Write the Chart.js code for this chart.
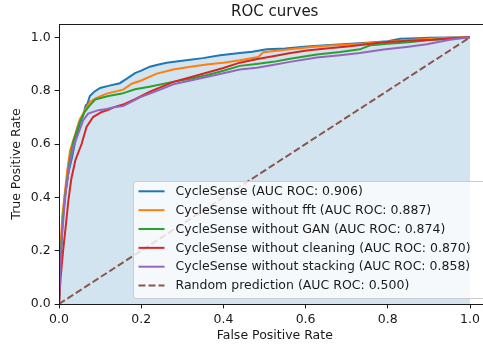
<!DOCTYPE html>
<html lang="en">
<head>
  <meta charset="UTF-8">
  <title>ROC curves</title>
  <script src="https://cdn.jsdelivr.net/npm/chart.js"></script>
  <style>
    html, body { margin: 0; padding: 0; background: #fff; overflow: hidden; }
    canvas { display: block; }
  </style>
</head>
<body>
  <canvas id="roc" width="500" height="347"></canvas>

  <script>
    // values
    const labels = [
      "CycleSense (AUC ROC: 0.906)",
      "CycleSense without fft (AUC ROC: 0.887)",
      "CycleSense without GAN (AUC ROC: 0.874)",
      "CycleSense without cleaning (AUC ROC: 0.870)",
      "CycleSense without stacking (AUC ROC: 0.858)",
      "Random prediction (AUC ROC: 0.500)"
    ];

    const fprFull = [0, 0.003, 0.008, 0.015, 0.024, 0.032, 0.040, 0.051, 0.059, 0.065, 0.069, 0.075, 0.085, 0.100, 0.120, 0.148, 0.165, 0.185, 0.200, 0.221, 0.240, 0.262, 0.290, 0.319, 0.350, 0.392, 0.440, 0.470, 0.505, 0.550, 0.603, 0.650, 0.700, 0.750, 0.800, 0.830, 0.870, 0.900, 0.950, 1.0];
    const tprFull = [0, 0.15, 0.30, 0.42, 0.50, 0.552, 0.614, 0.678, 0.708, 0.745, 0.750, 0.780, 0.795, 0.810, 0.818, 0.828, 0.845, 0.866, 0.875, 0.890, 0.897, 0.905, 0.910, 0.916, 0.922, 0.933, 0.941, 0.946, 0.955, 0.958, 0.966, 0.970, 0.975, 0.980, 0.985, 0.995, 0.997, 0.998, 0.999, 1.0];

    const fprNoFft = [0, 0.003, 0.008, 0.013, 0.020, 0.027, 0.040, 0.050, 0.063, 0.075, 0.090, 0.116, 0.156, 0.177, 0.200, 0.238, 0.278, 0.320, 0.359, 0.400, 0.440, 0.485, 0.497, 0.530, 0.562, 0.603, 0.650, 0.700, 0.750, 0.800, 0.850, 0.900, 0.950, 1.0];
    const tprNoFft = [0, 0.20, 0.33, 0.40, 0.50, 0.577, 0.640, 0.690, 0.727, 0.758, 0.772, 0.789, 0.804, 0.826, 0.838, 0.864, 0.879, 0.890, 0.898, 0.905, 0.914, 0.926, 0.944, 0.950, 0.955, 0.962, 0.968, 0.972, 0.978, 0.983, 0.990, 0.995, 0.998, 1.0];

    const fprNoGan = [0, 0.004, 0.010, 0.016, 0.025, 0.035, 0.050, 0.062, 0.075, 0.088, 0.120, 0.153, 0.185, 0.220, 0.277, 0.320, 0.359, 0.400, 0.440, 0.480, 0.521, 0.562, 0.627, 0.684, 0.732, 0.757, 0.800, 0.850, 0.910, 0.950, 1.0];
    const tprNoGan = [0, 0.18, 0.33, 0.42, 0.53, 0.61, 0.68, 0.72, 0.745, 0.767, 0.780, 0.789, 0.805, 0.815, 0.833, 0.845, 0.858, 0.875, 0.893, 0.900, 0.908, 0.920, 0.936, 0.945, 0.955, 0.970, 0.976, 0.982, 0.991, 0.995, 1.0];

    const fprNoClean = [0, 0.004, 0.010, 0.017, 0.023, 0.030, 0.040, 0.055, 0.067, 0.083, 0.104, 0.120, 0.136, 0.160, 0.185, 0.220, 0.278, 0.320, 0.359, 0.400, 0.440, 0.480, 0.521, 0.560, 0.603, 0.650, 0.708, 0.790, 0.850, 0.910, 0.950, 1.0];
    const tprNoClean = [0, 0.10, 0.20, 0.30, 0.39, 0.47, 0.54, 0.60, 0.664, 0.701, 0.720, 0.728, 0.739, 0.750, 0.768, 0.795, 0.833, 0.850, 0.867, 0.885, 0.905, 0.918, 0.929, 0.940, 0.951, 0.958, 0.967, 0.982, 0.987, 0.991, 0.996, 1.0];

    const fprNoStack = [0, 0.003, 0.008, 0.015, 0.025, 0.035, 0.047, 0.059, 0.071, 0.096, 0.116, 0.136, 0.156, 0.197, 0.240, 0.278, 0.320, 0.359, 0.400, 0.440, 0.481, 0.520, 0.562, 0.627, 0.684, 0.732, 0.790, 0.850, 0.895, 0.951, 1.0];
    const tprNoStack = [0, 0.12, 0.27, 0.40, 0.52, 0.59, 0.64, 0.689, 0.714, 0.727, 0.731, 0.739, 0.742, 0.775, 0.800, 0.824, 0.838, 0.851, 0.865, 0.879, 0.886, 0.896, 0.908, 0.924, 0.933, 0.941, 0.954, 0.965, 0.974, 0.991, 1.0];

    const fprRandom = [0, 1];
    const tprRandom = [0, 1];

    const xTicks = [0, 0.2, 0.4, 0.6, 0.8, 1.0];
    const yTicks = [0, 0.2, 0.4, 0.6, 0.8, 1.0];

    const colors = ["#1f77b4", "#ff7f0e", "#2ca02c", "#d62728", "#9467bd", "#8c564b"];
    const FONT = "'DejaVu Sans', 'Liberation Sans', sans-serif";
    const INK = "#1a1a1a";

    const series = [
      [fprFull, tprFull], [fprNoFft, tprNoFft], [fprNoGan, tprNoGan],
      [fprNoClean, tprNoClean], [fprNoStack, tprNoStack], [fprRandom, tprRandom]
    ];
    const pts = (xs, ys) => xs.map((x, i) => ({ x: x, y: ys[i] }));

    const datasets = series.map((s, i) => ({
      label: labels[i],
      data: pts(s[0], s[1]),
      borderColor: colors[i],
      borderWidth: 2,
      borderDash: i === 5 ? [7, 3] : [],
      pointRadius: 0,
      tension: 0,
      fill: i === 0 ? 'origin' : false,
      backgroundColor: i === 0 ? 'rgba(31,119,180,0.2)' : colors[i],
      order: 5 - i
    }));

    // title, axis labels, frame and the legend box, drawn like matplotlib does
    const decor = {
      id: 'decor',
      afterDatasetsDraw(chart) {
        const { ctx, chartArea: a } = chart;
        ctx.save();
        ctx.strokeStyle = INK;
        ctx.lineWidth = 1;
        ctx.strokeRect(Math.round(a.left) + 0.5, Math.round(a.top) + 0.5,
          a.right - Math.round(a.left), Math.round(a.bottom) - Math.round(a.top));
        ctx.restore();
      },
      afterDraw(chart) {
        const { ctx, chartArea: a } = chart;
        const cx = (a.left + a.right) / 2;
        ctx.save();
        ctx.fillStyle = INK;
        ctx.textBaseline = 'middle';
        ctx.textAlign = 'center';
        ctx.font = "15px " + FONT;
        ctx.fillText("ROC curves", cx, 12);
        ctx.font = "12.5px " + FONT;
        ctx.fillText("False Positive Rate", cx, 336);
        ctx.save();
        ctx.translate(17, (a.top + a.bottom) / 2);
        ctx.rotate(-Math.PI / 2);
        ctx.fillText("True Positive Rate", 0, 0);
        ctx.restore();

        // legend, lower right
        const bx = 133.5, by = 181.5, bw = 360, bh = 117;
        ctx.beginPath();
        ctx.roundRect(bx, by, bw, bh, 3);
        ctx.fillStyle = 'rgba(255,255,255,0.8)';
        ctx.fill();
        ctx.strokeStyle = '#cccccc';
        ctx.lineWidth = 1;
        ctx.stroke();

        ctx.textAlign = 'left';
        labels.forEach((lab, i) => {
          const y = 191.3 + i * 18.85;
          ctx.beginPath();
          ctx.strokeStyle = colors[i];
          ctx.lineWidth = 2;
          ctx.setLineDash(i === 5 ? [7, 3] : []);
          ctx.moveTo(138.5, y);
          ctx.lineTo(164.5, y);
          ctx.stroke();
          ctx.setLineDash([]);
          ctx.fillStyle = INK;
          ctx.fillText(lab, 175.5, y + 0.5);
        });
        ctx.restore();
      }
    };

    const tickStyle = {
      color: INK,
      font: { family: FONT, size: 12.5 },
      padding: 4,
      maxRotation: 0,
      autoSkip: false,
      callback: v => Number(v).toFixed(1)
    };
    const gridStyle = {
      drawOnChartArea: false,
      drawTicks: true,
      tickLength: 4.4,
      color: INK,
      lineWidth: 1
    };

    new Chart(document.getElementById('roc'), {
      type: 'line',
      data: { datasets: datasets },
      plugins: [decor],
      options: {
        responsive: false,
        animation: false,
        events: [],
        layout: { padding: { top: 24, right: 9.45, left: 0, bottom: 0 } },
        plugins: {
          legend: { display: false },
          tooltip: { enabled: false },
          title: { display: false },
          filler: { drawTime: 'beforeDatasetsDraw' }
        },
        scales: {
          x: {
            type: 'linear',
            min: 0,
            max: 1.05,
            ticks: tickStyle,
            grid: gridStyle,
            border: { display: false },
            afterBuildTicks: s => { s.ticks = xTicks.map(v => ({ value: v })); },
            afterFit: s => { s.height = 43; }
          },
          y: {
            type: 'linear',
            min: 0,
            max: 1.05,
            ticks: tickStyle,
            grid: gridStyle,
            border: { display: false },
            afterBuildTicks: s => { s.ticks = yTicks.map(v => ({ value: v })); },
            afterFit: s => { s.width = 59; }
          }
        }
      }
    });
  </script>
</body>
</html>
